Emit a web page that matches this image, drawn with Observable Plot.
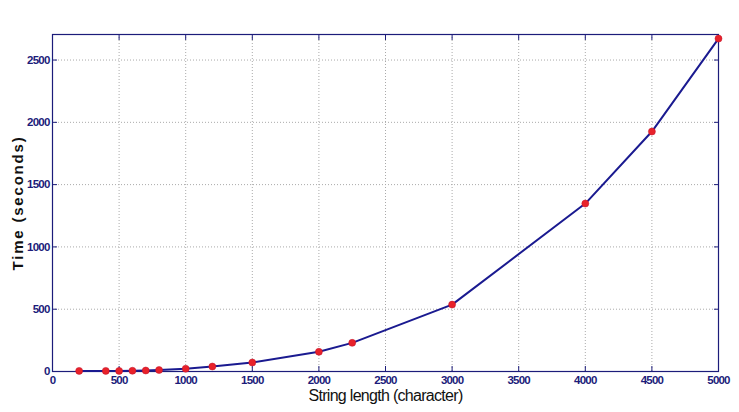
<!DOCTYPE html>
<html>
<head>
<meta charset="utf-8">
<script src="https://cdn.jsdelivr.net/npm/d3@7"></script>
<script src="https://cdn.jsdelivr.net/npm/@observablehq/plot@0.6"></script>
<style>
  html, body { margin: 0; padding: 0; background: #fff; }
  #chart { width: 739px; height: 412px; }
  .ticklbl text { letter-spacing: -0.8px; }
  .xlbl text { letter-spacing: -0.7px; }
  .ylbl text { letter-spacing: 1.8px; }
</style>
</head>
<body>
<div id="chart"></div>
<script>
const lengths = [200, 400, 500, 600, 700, 800, 1000, 1200, 1500, 2000, 2250, 3000, 4000, 4500, 5000];
const times   = [5, 5, 5, 6, 8, 12, 22, 40, 72, 158, 230, 537, 1348, 1926, 2672];
const xTicks = [0, 500, 1000, 1500, 2000, 2500, 3000, 3500, 4000, 4500, 5000];
const yTicks = [0, 500, 1000, 1500, 2000, 2500];

const data = lengths.map((x, i) => ({x, y: times[i]}));
const navy = "#1c1c7a";
const tickFont = "'Liberation Sans', Arial, sans-serif";

const chart = Plot.plot({
  width: 739,
  height: 412,
  marginLeft: 52,
  marginRight: 21,
  marginTop: 34,
  marginBottom: 41,
  style: {background: "#fff", fontFamily: tickFont},
  x: {domain: [0, 5000]},
  y: {domain: [0, 2705]},
  marks: [
    Plot.ruleX(xTicks.slice(1, -1), {stroke: "#aaa", strokeDasharray: "1,2", strokeWidth: 1}),
    Plot.ruleY(yTicks.slice(1), {stroke: "#aaa", strokeDasharray: "1,2", strokeWidth: 1}),
    Plot.axisX({ticks: xTicks, tickSize: -5, stroke: navy, tickPadding: 9, fill: navy, fontSize: 11.5, fontWeight: "bold", tickFormat: d => String(d), label: null, className: "ticklbl"}),
    Plot.axisX({anchor: "top", ticks: xTicks, tickSize: -5, stroke: navy, text: null, label: null}),
    Plot.axisY({ticks: yTicks, tickSize: -5, stroke: navy, tickPadding: 8, fill: navy, fontSize: 11.5, fontWeight: "bold", tickFormat: d => String(d), label: null, className: "ticklbl"}),
    Plot.axisY({anchor: "right", ticks: yTicks, tickSize: -5, stroke: navy, text: null, label: null}),
    Plot.frame({stroke: navy, strokeWidth: 1.2}),
    Plot.line(data, {x: "x", y: "y", stroke: "#1a1a90", strokeWidth: 2}),
    Plot.dot(data, {x: "x", y: "y", r: 3.5, fill: "#e8222a", stroke: "#c0102a", strokeWidth: 0.5}),
    Plot.text(["String length (character)"], {frameAnchor: "bottom", dy: 29, fontSize: 16, fill: "#111", className: "xlbl"}),
    Plot.text(["Time (seconds)"], {frameAnchor: "left", textAnchor: "middle", dx: -34, rotate: -90, fontSize: 15, fontWeight: "bold", fill: "#111", className: "ylbl"})
  ]
});
document.getElementById("chart").appendChild(chart);
</script>
</body>
</html>
